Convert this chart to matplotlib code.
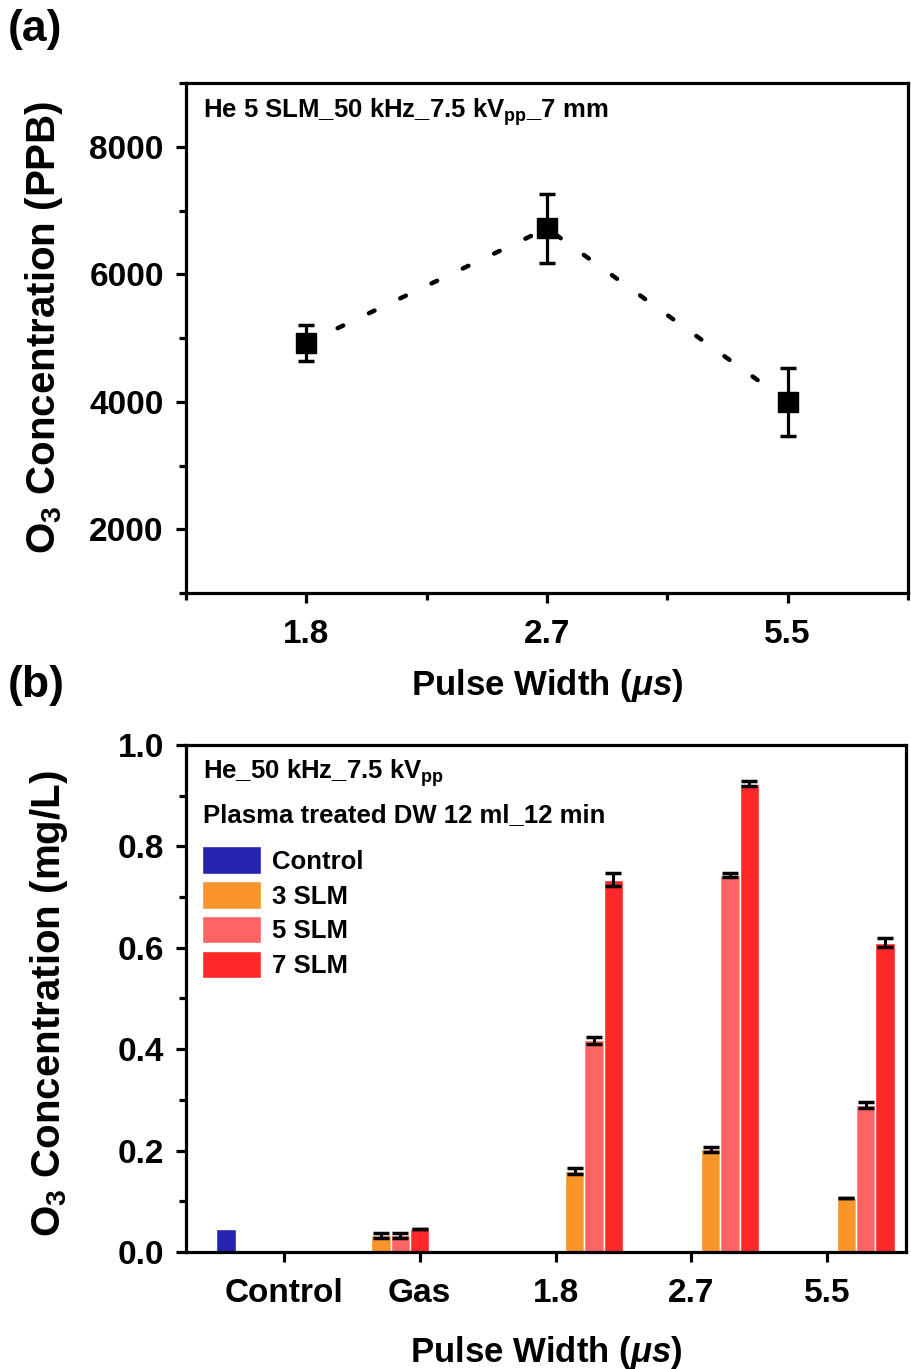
import numpy as np
import matplotlib
matplotlib.use("Agg")
import matplotlib.pyplot as plt
from matplotlib.ticker import MultipleLocator, FixedLocator

plt.rcParams['font.family'] = ['Liberation Sans', 'DejaVu Sans']
plt.rcParams['font.weight'] = 'bold'
plt.rcParams['mathtext.fontset'] = 'custom'
plt.rcParams['mathtext.rm'] = 'Liberation Sans:bold'
plt.rcParams['mathtext.bf'] = 'Liberation Sans:bold'
plt.rcParams['mathtext.it'] = 'Liberation Sans:italic'

# (a) ozone in gas phase vs pulse width
pulse_labels = ['1.8', '2.7', '5.5']
o3_ppb = [4920, 6720, 4000]
o3_ppb_err = [280, 540, 535]

# (b) ozone dissolved in water
categorias = ['Control', 'Gas', '1.8', '2.7', '5.5']
control_val = [0.046]
slm3 = [np.nan, 0.033, 0.160, 0.203, 0.107]
slm3_err = [0, 0.005, 0.006, 0.005, 0]
slm5 = [np.nan, 0.033, 0.418, 0.744, 0.290]
slm5_err = [0, 0.005, 0.007, 0.004, 0.005]
slm7 = [np.nan, 0.046, 0.734, 0.924, 0.610]
slm7_err = [0, 0, 0.013, 0.005, 0.009]

col_control = '#2424B0'
col_3 = '#F7942A'
col_5 = '#FF6464'
col_7 = '#FF2828'

W, H = 911, 1369
fig = plt.figure(figsize=(W / 100, H / 100), dpi=100)

def estilo(ax):
    for s in ax.spines.values():
        s.set_linewidth(2.3)
    ax.tick_params(which='major', direction='out', length=7, width=2.3, labelsize=24)
    ax.tick_params(which='minor', direction='out', length=5, width=2.3)
    ax.tick_params(top=False, right=False)
    ax.tick_params(axis='y', pad=9)
    for t in ax.get_xticklabels() + ax.get_yticklabels():
        t.set_fontweight('bold')

# ---------------- panel (a) ----------------
ax1 = fig.add_axes([186 / W, 1 - 593 / H, (908 - 186) / W, (593 - 83) / H])
x = np.arange(1, len(pulse_labels) + 1)
ax1.plot(x, o3_ppb, color='black', lw=3.2, linestyle=(0, (1.4, 6.4)), dash_capstyle='round')
ax1.errorbar(x, o3_ppb, yerr=o3_ppb_err, fmt='s', color='black', ms=14,
             elinewidth=2.3, capsize=6, capthick=2.5)
ax1.set_xlim(0.5, 3.5)
ax1.set_ylim(1000, 9000)
ax1.set_xticks(x)
ax1.set_xticklabels(pulse_labels)
ax1.xaxis.set_minor_locator(FixedLocator([0.5, 1.5, 2.5, 3.5]))
ax1.yaxis.set_major_locator(FixedLocator([2000, 4000, 6000, 8000]))
ax1.yaxis.set_minor_locator(MultipleLocator(1000))
estilo(ax1)
ax1.tick_params(axis='x', pad=12)
ax1.set_ylabel(r"O$_\mathrm{3}$ Concentration (PPB)", fontsize=29, fontweight='bold')
ax1.yaxis.set_label_coords(-0.168, 0.52)
ax1.set_xlabel(r"Pulse Width ($\mathit{μs}$)", fontsize=25, fontweight='bold', labelpad=12)
ax1.text(0.024, 0.943, r"He 5 SLM_50 kHz_7.5 kV$_\mathrm{pp}$_7 mm", transform=ax1.transAxes,
         fontsize=18.5, fontweight='bold', va='center', ha='left')
fig.text(8 / W, 1 - 30 / H, "(a)", fontsize=32, fontweight='bold', va='center', ha='left')

# ---------------- panel (b) ----------------
ax2 = fig.add_axes([186 / W, 1 - 1252 / H, (906 - 186) / W, (1252 - 745) / H])
xb = np.arange(len(categorias))
ancho = 0.142
# slot of each series inside a category (Origin-style grouped columns)
slot_gas = [-2, -1, 0]
slot_pulso = [1, 2, 3]
slots3 = np.array([0, slot_gas[0]] + [slot_pulso[0]] * 3)
slots5 = np.array([0, slot_gas[1]] + [slot_pulso[1]] * 3)
slots7 = np.array([0, slot_gas[2]] + [slot_pulso[2]] * 3)

b0 = ax2.bar(xb[0] - 3 * ancho, control_val, width=ancho, color=col_control,
             edgecolor='white', lw=1, label='Control')
kw = dict(width=ancho, edgecolor='white', lw=1,
          error_kw=dict(ecolor='black', elinewidth=2.2, capsize=6, capthick=2.5))
b3 = ax2.bar(xb + slots3 * ancho, slm3, yerr=slm3_err, color=col_3, label='3 SLM', **kw)
b5 = ax2.bar(xb + slots5 * ancho, slm5, yerr=slm5_err, color=col_5, label='5 SLM', **kw)
b7 = ax2.bar(xb + slots7 * ancho, slm7, yerr=slm7_err, color=col_7, label='7 SLM', **kw)

ax2.set_xlim(-0.72, 4.58)
ax2.set_ylim(0, 1.0)
ax2.set_xticks(xb)
ax2.set_xticklabels(categorias)
ax2.yaxis.set_major_locator(MultipleLocator(0.2))
ax2.yaxis.set_minor_locator(MultipleLocator(0.1))
ax2.yaxis.set_major_formatter(matplotlib.ticker.FormatStrFormatter('%.1f'))
estilo(ax2)
ax2.tick_params(axis='x', pad=12)
ax2.set_ylabel(r"O$_\mathrm{3}$ Concentration (mg/L)", fontsize=29, fontweight='bold')
ax2.yaxis.set_label_coords(-0.161, 0.49)
ax2.set_xlabel(r"Pulse Width ($\mathit{μs}$)", fontsize=25, fontweight='bold', labelpad=18)
ax2.text(0.024, 0.945, r"He_50 kHz_7.5 kV$_\mathrm{pp}$", transform=ax2.transAxes,
         fontsize=18.5, fontweight='bold', va='center', ha='left')
ax2.text(0.024, 0.862, "Plasma treated DW 12 ml_12 min", transform=ax2.transAxes,
         fontsize=18.5, fontweight='bold', va='center', ha='left')
leg = ax2.legend(handles=[b0, b3, b5, b7], loc='upper left', bbox_to_anchor=(0.022, 0.800),
                 frameon=False, fontsize=18.5, handlelength=2.3, handleheight=1.25,
                 handletextpad=0.45, labelspacing=0.3, borderpad=0, borderaxespad=0)
for t in leg.get_texts():
    t.set_fontweight('bold')
fig.text(8 / W, 1 - 685 / H, "(b)", fontsize=32, fontweight='bold', va='center', ha='left')

fig.savefig("out.png", dpi=100)
